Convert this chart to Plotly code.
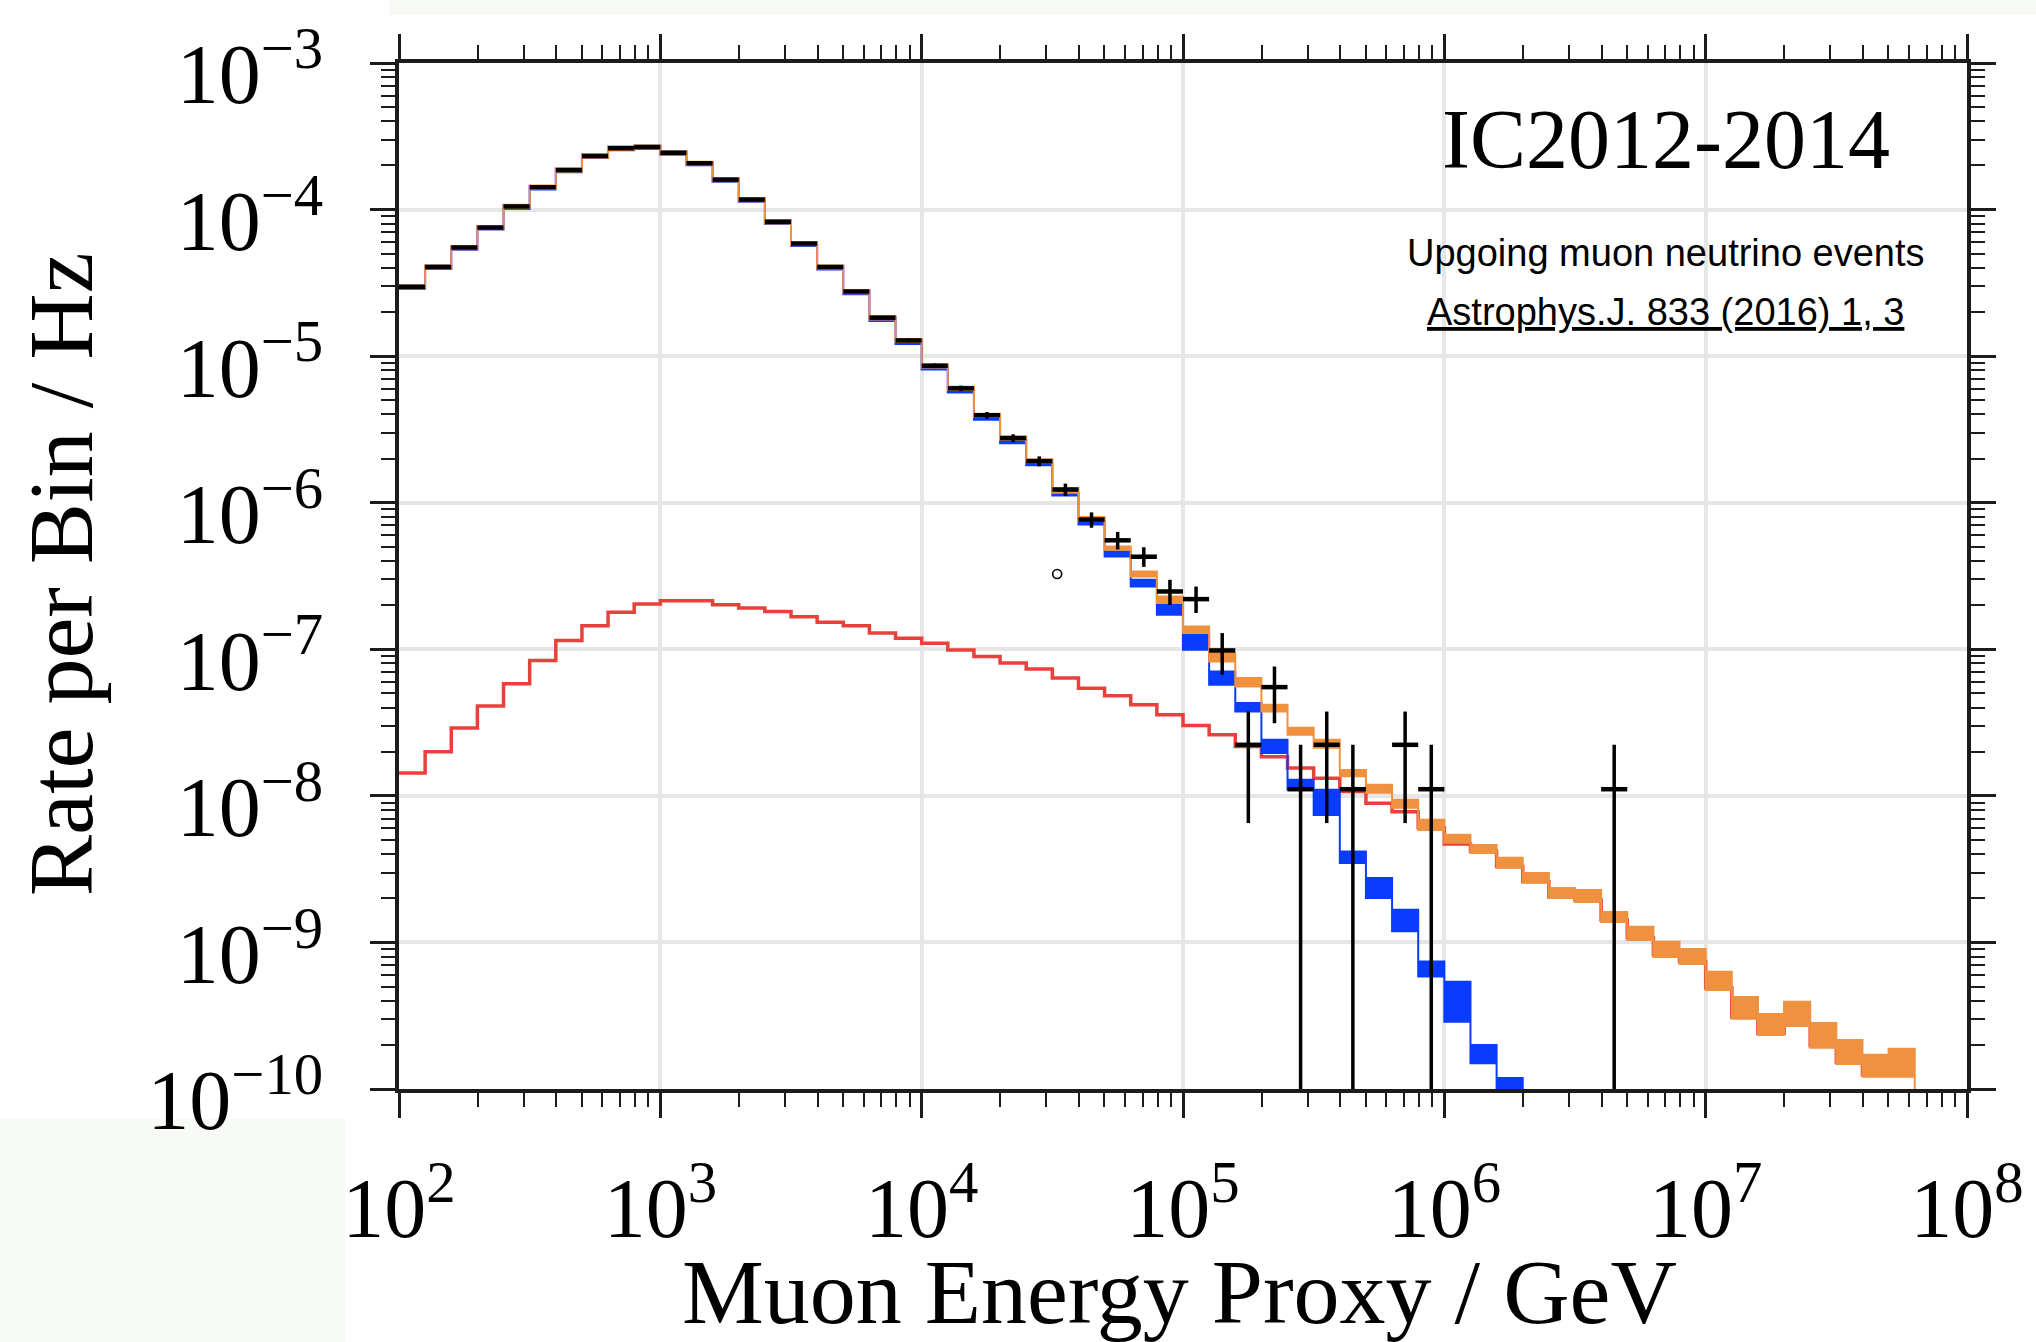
import numpy as np
import plotly.graph_objects as go

# Binning: 0.1-decade bins in muon energy proxy, starting at 10^2 GeV
LOG_E_MIN = 2.0
LOG_BIN_WIDTH = 0.1
Y_LOG_RANGE = [-10, -3]
X_LOG_RANGE = [2, 8]

# Observed rate per bin (Hz); None = no events in that bin
data_rate = [2.97e-5, 4.06e-5, 5.51e-5, 7.54e-5, 1.05e-4, 1.42e-4, 1.86e-4, 2.32e-4, 2.62e-4, 2.67e-4,
             2.44e-4, 2.07e-4, 1.60e-4, 1.17e-4, 8.26e-5, 5.86e-5, 4.06e-5, 2.76e-5, 1.83e-5, 1.28e-5,
             8.60e-6, 6.03e-6, 3.95e-6, 2.76e-6, 1.92e-6, 1.23e-6, 7.67e-7, 5.54e-7, 4.28e-7, 2.48e-7,
             2.20e-7, 9.82e-8, 2.23e-8, 5.52e-8, 1.11e-8, 2.23e-8, 1.11e-8, None, 2.23e-8, 1.11e-8,
             None, None, None, None, None, None, 1.11e-8]
# Error bar bounds (Hz); 0.0 = lower bound at zero
data_lo = [2.91e-5, 3.99e-5, 5.43e-5, 7.45e-5, 1.04e-4, 1.41e-4, 1.85e-4, 2.30e-4, 2.60e-4, 2.65e-4,
           2.42e-4, 2.05e-4, 1.59e-4, 1.16e-4, 8.16e-5, 5.78e-5, 3.99e-5, 2.70e-5, 1.78e-5, 1.24e-5,
           8.29e-6, 5.77e-6, 3.74e-6, 2.59e-6, 1.77e-6, 1.11e-6, 6.75e-7, 4.80e-7, 3.65e-7, 2.01e-7,
           1.77e-7, 6.70e-8, 6.52e-9, 3.13e-8, 0.0, 6.52e-9, 0.0, None, 6.52e-9, 0.0,
           None, None, None, None, None, None, 0.0]
data_hi = [3.03e-5, 4.13e-5, 5.59e-5, 7.63e-5, 1.06e-4, 1.43e-4, 1.87e-4, 2.34e-4, 2.64e-4, 2.69e-4,
           2.46e-4, 2.09e-4, 1.61e-4, 1.18e-4, 8.36e-5, 5.94e-5, 4.13e-5, 2.82e-5, 1.88e-5, 1.32e-5,
           8.91e-6, 6.29e-6, 4.16e-6, 2.93e-6, 2.07e-6, 1.35e-6, 8.59e-7, 6.32e-7, 4.97e-7, 2.98e-7,
           2.68e-7, 1.29e-7, 3.76e-8, 7.63e-8, 2.23e-8, 3.76e-8, 2.23e-8, None, 3.76e-8, 2.23e-8,
           None, None, None, None, None, None, 2.23e-8]

# Total expectation (conventional atmospheric + astrophysical), band edges (Hz)
total_lo = [2.90e-5, 3.96e-5, 5.37e-5, 7.35e-5, 1.02e-4, 1.38e-4, 1.81e-4, 2.26e-4, 2.55e-4, 2.60e-4,
            2.38e-4, 2.02e-4, 1.56e-4, 1.14e-4, 8.05e-5, 5.71e-5, 3.96e-5, 2.69e-5, 1.78e-5, 1.25e-5,
            8.38e-6, 5.88e-6, 3.85e-6, 2.69e-6, 1.88e-6, 1.17e-6, 7.50e-7, 4.78e-7, 3.14e-7, 2.07e-7,
            1.29e-7, 8.26e-8, 5.57e-8, 3.76e-8, 2.61e-8, 2.13e-8, 1.36e-8, 1.05e-8, 8.28e-9, 5.86e-9,
            4.78e-9, 4.08e-9, 3.23e-9, 2.55e-9, 2.01e-9, 1.89e-9, 1.38e-9, 1.04e-9, 7.96e-10, 7.13e-10,
            4.74e-10, 3.01e-10, 2.34e-10, 2.69e-10, 1.91e-10, 1.48e-10, 1.21e-10, 1.21e-10, 4.0e-11]
total_hi = [3.04e-5, 4.16e-5, 5.65e-5, 7.73e-5, 1.08e-4, 1.46e-4, 1.91e-4, 2.38e-4, 2.69e-4, 2.74e-4,
            2.50e-4, 2.12e-4, 1.64e-4, 1.20e-4, 8.47e-5, 6.01e-5, 4.16e-5, 2.83e-5, 1.88e-5, 1.31e-5,
            8.82e-6, 6.18e-6, 4.05e-6, 2.83e-6, 1.98e-6, 1.26e-6, 8.00e-7, 5.03e-7, 3.40e-7, 2.29e-7,
            1.43e-7, 9.42e-8, 6.36e-8, 4.18e-8, 2.91e-8, 2.41e-8, 1.50e-8, 1.19e-8, 9.40e-9, 6.86e-9,
            5.42e-9, 4.62e-9, 3.78e-9, 2.98e-9, 2.35e-9, 2.28e-9, 1.61e-9, 1.28e-9, 1.01e-9, 9.03e-10,
            6.30e-10, 4.25e-10, 3.25e-10, 3.94e-10, 2.82e-10, 2.16e-10, 1.71e-10, 1.88e-10, 5.0e-11]

# Conventional atmospheric only, band edges (Hz)
conv_lo = [2.88e-5, 3.93e-5, 5.33e-5, 7.30e-5, 1.01e-4, 1.37e-4, 1.80e-4, 2.25e-4, 2.54e-4, 2.59e-4,
           2.37e-4, 2.01e-4, 1.55e-4, 1.13e-4, 7.97e-5, 5.64e-5, 3.90e-5, 2.64e-5, 1.74e-5, 1.21e-5,
           8.10e-6, 5.65e-6, 3.68e-6, 2.55e-6, 1.80e-6, 1.12e-6, 7.10e-7, 4.30e-7, 2.68e-7, 1.72e-7,
           9.93e-8, 5.73e-8, 3.76e-8, 1.96e-8, 1.10e-8, 7.41e-9, 3.48e-9, 2.01e-9, 1.19e-9, 5.85e-10,
           2.88e-10, 1.50e-10, 8.0e-11]
conv_hi = [3.02e-5, 4.13e-5, 5.61e-5, 7.68e-5, 1.07e-4, 1.45e-4, 1.90e-4, 2.37e-4, 2.68e-4, 2.73e-4,
           2.49e-4, 2.11e-4, 1.63e-4, 1.19e-4, 8.39e-5, 5.94e-5, 4.10e-5, 2.78e-5, 1.84e-5, 1.28e-5,
           8.55e-6, 5.95e-6, 3.88e-6, 2.70e-6, 1.87e-6, 1.16e-6, 7.45e-7, 4.65e-7, 2.98e-7, 2.01e-7,
           1.26e-7, 7.05e-8, 4.30e-8, 2.41e-8, 1.29e-8, 1.10e-8, 4.17e-9, 2.75e-9, 1.67e-9, 7.40e-10,
           5.40e-10, 2.00e-10, 1.19e-10]

# Astrophysical component only (Hz)
astro = [1.43e-8, 2.00e-8, 2.90e-8, 4.11e-8, 5.82e-8, 8.39e-8, 1.15e-7, 1.45e-7, 1.79e-7, 2.04e-7,
         2.14e-7, 2.14e-7, 2.01e-7, 1.91e-7, 1.81e-7, 1.67e-7, 1.53e-7, 1.45e-7, 1.29e-7, 1.19e-7,
         1.10e-7, 9.88e-8, 8.93e-8, 8.05e-8, 7.33e-8, 6.36e-8, 5.43e-8, 4.82e-8, 4.18e-8, 3.57e-8,
         3.02e-8, 2.61e-8, 2.17e-8, 1.85e-8, 1.55e-8, 1.32e-8, 1.07e-8, 8.91e-9, 7.78e-9, 6.05e-9,
         4.70e-9, 4.20e-9, 3.30e-9, 2.60e-9, 2.05e-9, 1.95e-9, 1.42e-9, 1.08e-9, 8.20e-10, 7.40e-10,
         4.90e-10, 3.10e-10, 2.40e-10, 2.80e-10, 1.97e-10, 1.52e-10, 1.25e-10, 1.25e-10]

# Small open marker drawn inside the frame
marker_x = [3.30e4]
marker_y = [3.26e-7]

x_tick_vals = [1e2, 1e3, 1e4, 1e5, 1e6, 1e7, 1e8]
x_tick_text = ["10<sup>2</sup>", "10<sup>3</sup>", "10<sup>4</sup>", "10<sup>5</sup>",
               "10<sup>6</sup>", "10<sup>7</sup>", "10<sup>8</sup>"]
y_tick_vals = [1e-10, 1e-9, 1e-8, 1e-7, 1e-6, 1e-5, 1e-4, 1e-3]
y_tick_text = ["10<sup>\u221210</sup>", "10<sup>\u22129</sup>", "10<sup>\u22128</sup>",
               "10<sup>\u22127</sup>", "10<sup>\u22126</sup>", "10<sup>\u22125</sup>",
               "10<sup>\u22124</sup>", "10<sup>\u22123</sup>"]

SERIF = "Liberation Serif, DejaVu Serif, serif"
SANS = "Liberation Sans, Arial, sans-serif"
AXIS_COLOR = "#1c1c1c"
ORANGE = "#f0913f"
BLUE = "#0a3cff"
RED = "#e8413c"


def bin_edges(n):
    return 10 ** (LOG_E_MIN + LOG_BIN_WIDTH * np.arange(n + 1))


def band_polygon(lo, hi):
    """Closed step outline: upper edge left->right, lower edge right->left."""
    e = bin_edges(len(lo))
    xs, ys = [], []
    for i in range(len(hi)):
        xs += [e[i], e[i + 1]]
        ys += [hi[i], hi[i]]
    for i in reversed(range(len(lo))):
        xs += [e[i + 1], e[i]]
        ys += [lo[i], lo[i]]
    xs.append(xs[0])
    ys.append(ys[0])
    return xs, ys


def step_line(vals):
    e = bin_edges(len(vals))
    return list(e), list(vals) + [vals[-1]]


fig = go.Figure()

# Astrophysical component (thin red step line)
ax_x, ax_y = step_line(astro)
fig.add_trace(go.Scatter(x=ax_x, y=ax_y, mode="lines", line=dict(color=RED, width=3.5, shape="hv"),
                         name="astrophysical", hoverinfo="skip"))

# Conventional atmospheric band (blue)
bx, by = band_polygon(conv_lo, conv_hi)
fig.add_trace(go.Scatter(x=bx, y=by, mode="lines", fill="toself", fillcolor=BLUE,
                         line=dict(color=BLUE, width=2), name="conventional", hoverinfo="skip"))

# Total expectation band (orange)
ox, oy = band_polygon(total_lo, total_hi)
fig.add_trace(go.Scatter(x=ox, y=oy, mode="lines", fill="toself", fillcolor=ORANGE,
                         line=dict(color=ORANGE, width=2), name="total", hoverinfo="skip"))

# Data: horizontal bin-width bars and vertical error bars
edges = bin_edges(len(data_rate))
y_floor = 10 ** (Y_LOG_RANGE[0] - 0.5)
hx, hy, vx, vy = [], [], [], []
for i, r in enumerate(data_rate):
    if r is None:
        continue
    hx += [edges[i], edges[i + 1], None]
    hy += [r, r, None]
    centre = np.sqrt(edges[i] * edges[i + 1])
    lo = data_lo[i] if data_lo[i] > 0 else y_floor
    vx += [centre, centre, None]
    vy += [lo, data_hi[i], None]

fig.add_trace(go.Scatter(x=vx, y=vy, mode="lines", line=dict(color="black", width=3.5),
                         name="data", hoverinfo="skip"))
fig.add_trace(go.Scatter(x=hx, y=hy, mode="lines", line=dict(color="black", width=4.5),
                         name="data", hoverinfo="skip"))

fig.add_trace(go.Scatter(x=marker_x, y=marker_y, mode="markers",
                         marker=dict(symbol="circle-open", size=9, color="black", line=dict(width=1.6)),
                         hoverinfo="skip"))

x_minor = [m * 10.0 ** n for n in range(X_LOG_RANGE[0], X_LOG_RANGE[1]) for m in range(2, 10)]
y_minor = [m * 10.0 ** n for n in range(Y_LOG_RANGE[0], Y_LOG_RANGE[1]) for m in range(2, 10)]

common_axis = dict(
    type="log", showline=True, linewidth=4, linecolor=AXIS_COLOR, mirror="allticks",
    ticks="outside", ticklen=25, tickwidth=3, tickcolor=AXIS_COLOR,
    showgrid=True, gridcolor="#e6e6e6", gridwidth=4, zeroline=False,
    tickfont=dict(family=SERIF, size=84, color="black"),
)

fig.update_layout(
    width=2036, height=1342,
    margin=dict(l=399, r=66, t=63, b=253),
    paper_bgcolor="white", plot_bgcolor="white",
    showlegend=False,
    xaxis=dict(common_axis, range=X_LOG_RANGE, tickmode="array", tickvals=x_tick_vals,
               ticktext=x_tick_text, ticklabelstandoff=18,
               minor=dict(tickmode="array", tickvals=x_minor, ticks="outside", ticklen=14,
                          tickwidth=2, tickcolor=AXIS_COLOR, showgrid=False)),
    yaxis=dict(common_axis, range=Y_LOG_RANGE, tickmode="array", tickvals=y_tick_vals,
               ticktext=y_tick_text, ticklabelstandoff=30, ticklabelshift=11,
               minor=dict(tickmode="array", tickvals=y_minor, ticks="outside", ticklen=14,
                          tickwidth=2, tickcolor=AXIS_COLOR, showgrid=False)),
)

# Faint tinted strips along the page edges
fig.add_shape(type="rect", xref="paper", yref="paper", x0=-0.0064, x1=1.05, y0=1.047, y1=1.07,
              fillcolor="#f6f9f4", line=dict(width=0), layer="below")
fig.add_shape(type="rect", xref="paper", yref="paper", x0=-0.26, x1=-0.0344, y0=-0.26, y1=-0.0292,
              fillcolor="#f8faf6", line=dict(width=0), layer="below")

annotations = [
    dict(text="IC2012-2014", x=0.8078, y=0.925, font=dict(family=SERIF, size=84, color="black")),
    dict(text="Upgoing muon neutrino events", x=0.8078, y=0.8148,
         font=dict(family=SANS, size=38, color="black")),
    dict(text="<u>Astrophys.J. 833 (2016) 1, 3</u>", x=0.8078, y=0.7573,
         font=dict(family=SANS, size=38, color="black")),
    dict(text="Muon Energy Proxy / GeV", x=0.498, y=-0.1974,
         font=dict(family=SERIF, size=92, color="black")),
    dict(text="Rate per Bin / Hz", x=-0.2158, y=0.5014, textangle=-90,
         font=dict(family=SERIF, size=92, color="black")),
]
for a in annotations:
    fig.add_annotation(xref="paper", yref="paper", showarrow=False, xanchor="center",
                       yanchor="middle", **a)

fig.write_html("out.html")
